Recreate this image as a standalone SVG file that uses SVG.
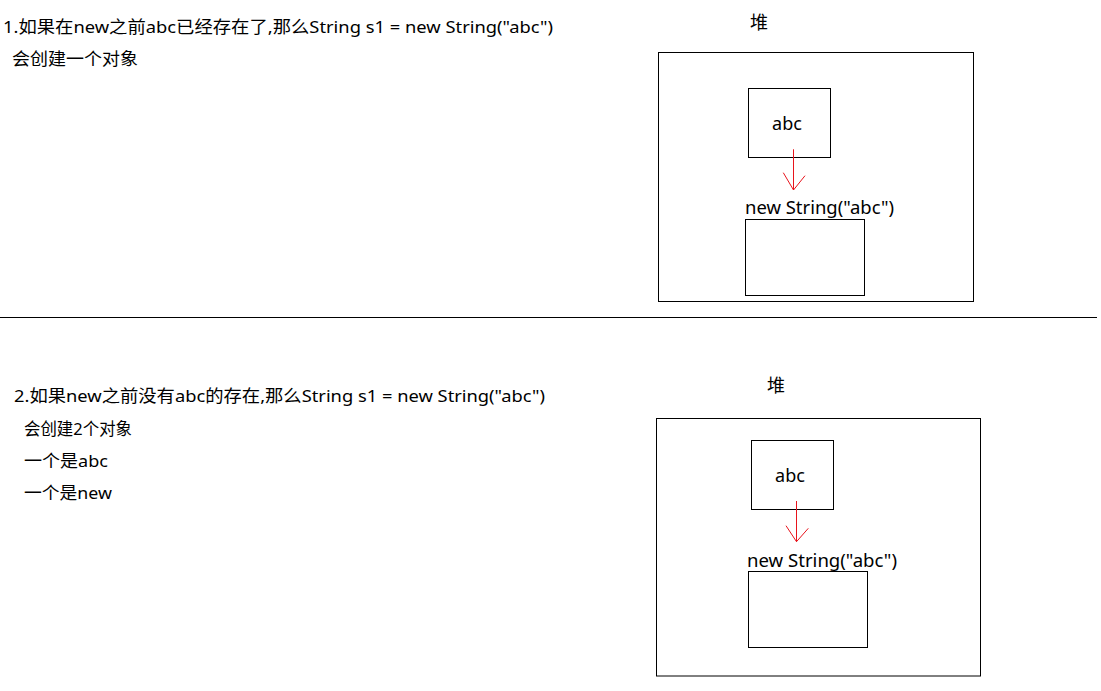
<svg xmlns="http://www.w3.org/2000/svg" width="1101" height="691" viewBox="0 0 1101 691">
<style>
text{font-family:"Noto Sans","Noto Sans CJK SC",sans-serif;fill:#000;}
.t{font-size:17px;}
.b{font-size:18px;}
.box{fill:none;stroke:#000;stroke-width:1;}
.arr{fill:none;stroke:#e8141c;stroke-width:1;}
</style>
<rect x="0" y="0" width="1101" height="691" fill="#fff"/>
<g id="text1">
<text class="t" x="3" y="33" textLength="550" lengthAdjust="spacingAndGlyphs">1.如果在new之前abc已经存在了,那么String s1 = new String("abc")</text>
<text class="t" x="12" y="65" textLength="126" lengthAdjust="spacingAndGlyphs">会创建一个对象</text>
</g>
<g id="heap1">
<text class="b" x="750" y="29">堆</text>
<rect class="box" x="658.5" y="52.5" width="315" height="249"/>
</g>
<g id="abc1">
<rect class="box" x="748.5" y="88.5" width="82" height="69"/>
<text class="b" x="787" y="130" text-anchor="middle">abc</text>
</g>
<g id="new1">
<text class="b" x="745" y="214" textLength="149" lengthAdjust="spacingAndGlyphs">new String("abc")</text>
<rect class="box" x="745.5" y="219.5" width="119" height="76"/>
</g>
<g id="divider">
<line x1="0" y1="317.5" x2="1097" y2="317.5" stroke="#000" stroke-width="1"/>
</g>
<g id="text2">
<text class="t" x="14" y="402" textLength="531" lengthAdjust="spacingAndGlyphs">2.如果new之前没有abc的存在,那么String s1 = new String("abc")</text>
<text class="t" x="24" y="435" textLength="108" lengthAdjust="spacingAndGlyphs">会创建2个对象</text>
<text class="t" x="24" y="467" textLength="84" lengthAdjust="spacingAndGlyphs">一个是abc</text>
<text class="t" x="24" y="499" textLength="88" lengthAdjust="spacingAndGlyphs">一个是new</text>
</g>
<g id="heap2">
<text class="b" x="767" y="392">堆</text>
<rect class="box" x="656.5" y="418.5" width="324" height="257.5"/>
</g>
<g id="abc2">
<rect class="box" x="751.5" y="440.5" width="82" height="69"/>
<text class="b" x="790" y="482" text-anchor="middle">abc</text>
</g>
<g id="new2">
<text class="b" x="747" y="567" textLength="150" lengthAdjust="spacingAndGlyphs">new String("abc")</text>
<rect class="box" x="748.5" y="571.5" width="119" height="76"/>
</g>
<g id="connectors">
<path class="arr" d="M793.5 149.3 V190 M783.3 172.7 L793.5 190 L805 175.7"/>
<path class="arr" d="M796.5 501 V541.7 M786 525.7 L796.5 541.7 L808.3 528.3"/>
</g>
</svg>
